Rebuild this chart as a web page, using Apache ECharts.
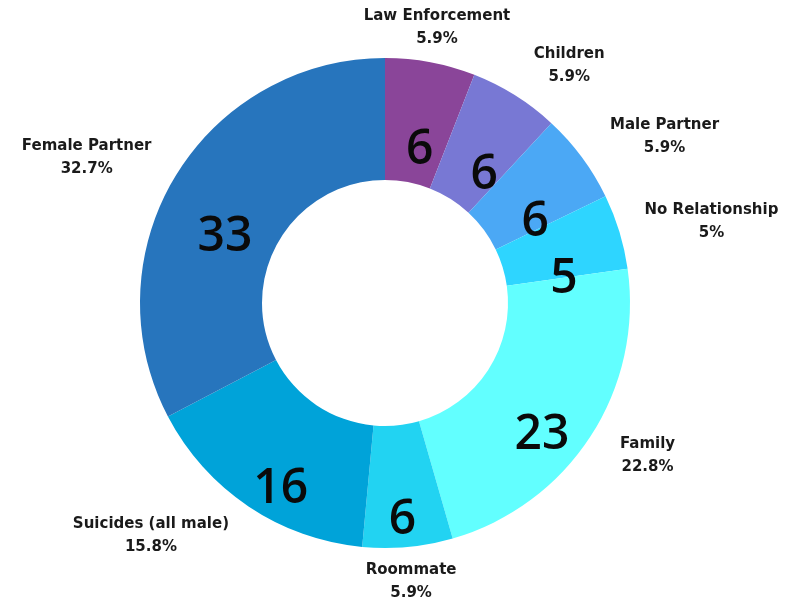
<!DOCTYPE html>
<html>
<head>
<meta charset="utf-8">
<script src="https://cdn.jsdelivr.net/npm/echarts@6/dist/echarts.min.js"></script>
<style>
html,body{margin:0;padding:0;background:#fff;}
#chart{width:791px;height:603px;}
</style>
</head>
<body>
<div id="chart"></div>
<script>
const categories = ['Law Enforcement','Children','Male Partner','No Relationship','Family','Roommate','Suicides (all male)','Female Partner'];
const values = [6, 6, 6, 5, 23, 6, 16, 33];
const colors = ['#8A4599','#7878D4','#4BA8F5','#2ED5FF','#62FFFF','#22D3F2','#00A3D9','#2775BD'];

const chart = echarts.init(document.getElementById('chart'));
const dataMain = categories.map((c, i) => ({ name: c, value: values[i], itemStyle: { color: colors[i] } }));
const dataLabels = categories.map((c, i) => ({ name: c, value: values[i] }));

function fmtPct(p) {
  const r = Math.round(p * 10) / 10;
  return String(parseFloat(r.toFixed(1)));
}

const option = {
  animation: false,
  backgroundColor: '#ffffff',
  series: [
    {
      type: 'pie',
      center: [385, 303],
      radius: [123, 245],
      startAngle: 90,
      clockwise: true,
      silent: true,
      percentPrecision: 4,
      data: dataMain,
      itemStyle: { borderWidth: 0 },
      label: {
        show: true,
        position: 'inside',
        formatter: '{c}',
        color: '#0a0a0a',
        fontSize: 48,
        fontFamily: 'Open Sans',
        fontWeight: 600
      },
      labelLine: { show: false },
      labelLayout: { dy: 31 },
      emphasis: { disabled: true }
    },
    {
      type: 'pie',
      center: [385, 303],
      radius: [123, 245],
      startAngle: 90,
      clockwise: true,
      silent: true,
      percentPrecision: 4,
      z: 5,
      data: dataLabels,
      itemStyle: { color: 'rgba(0,0,0,0)', borderWidth: 0 },
      label: {
        show: true,
        position: 'outside',
        overflow: 'none',
        color: '#1a1a1a',
        formatter: function (p) { return '{n|' + p.name + '}\n{p|' + fmtPct(p.percent) + '%}'; },
        rich: {
          n: { fontFamily: 'DejaVu Sans', fontWeight: 'bold', fontSize: 15, lineHeight: 23, color: '#1a1a1a', align: 'center' },
          p: { fontFamily: 'DejaVu Sans', fontWeight: 'bold', fontSize: 15, lineHeight: 23, color: '#1a1a1a', align: 'center' }
        }
      },
      labelLine: { show: false },
      labelLayout: function (params) {
        const lay = chart.getModel().getSeriesByIndex(1).getData().getItemLayout(params.dataIndex);
        const mid = (lay.startAngle + lay.endAngle) / 2;
        const vx = Math.cos(mid), vy = Math.sin(mid);
        const R = lay.r + 35;
        return {
          x: lay.cx + R * vx,
          y: lay.cy + R * vy,
          align: Math.abs(vx) < 0.3 ? 'center' : (vx > 0 ? 'left' : 'right'),
          verticalAlign: 'middle'
        };
      },
      emphasis: { disabled: true }
    }
  ]
};
chart.setOption(option);
</script>
</body>
</html>
